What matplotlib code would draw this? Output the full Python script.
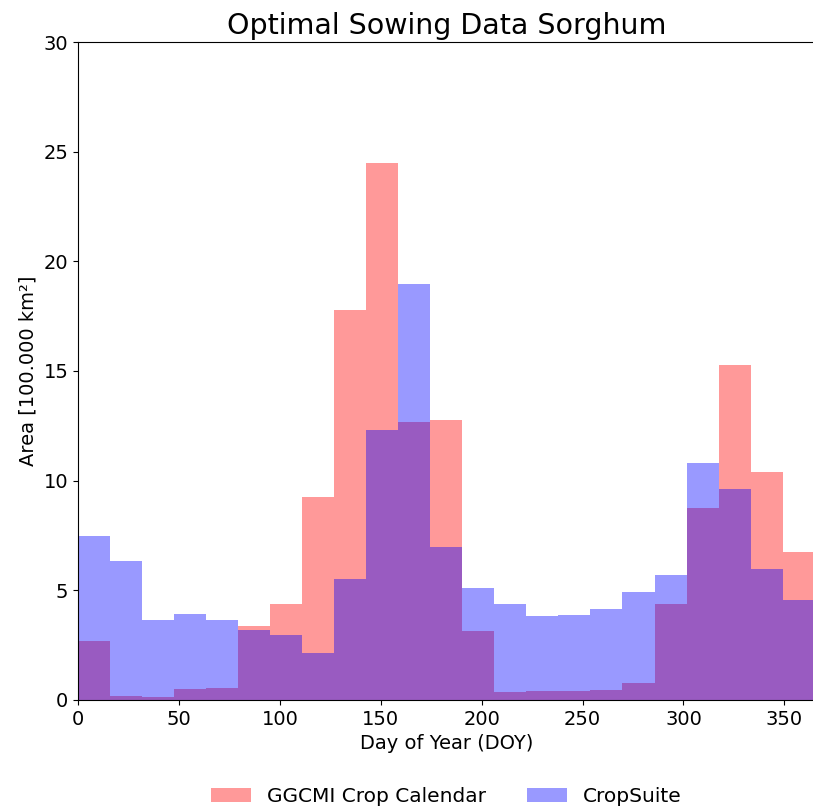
import numpy as np
import matplotlib
matplotlib.use('Agg')
import matplotlib.pyplot as plt

# 23 equal bins across the year
bin_edges = np.linspace(0, 365, 24)

ggcmi_area = [2.70, 0.18, 0.13, 0.49, 0.56, 3.35, 4.37, 9.25, 17.78, 24.5,
              12.65, 12.76, 3.15, 0.37, 0.40, 0.40, 0.43, 0.78, 4.39, 8.76,
              15.26, 10.40, 6.74]
cropsuite_area = [7.47, 6.31, 3.66, 3.92, 3.66, 3.20, 2.96, 2.13, 5.49, 12.3,
                  18.95, 6.95, 5.12, 4.35, 3.84, 3.89, 4.12, 4.90, 5.67, 10.80,
                  9.60, 5.98, 4.54]

labels = ['GGCMI Crop Calendar', 'CropSuite']

centers = 0.5 * (bin_edges[:-1] + bin_edges[1:])

fig = plt.figure(figsize=(8.13, 8.09), dpi=100)
ax = fig.add_axes([0.096, 0.135, 0.906, 0.813])

ax.hist(centers, bins=bin_edges, weights=ggcmi_area, color='red', alpha=0.4,
        label=labels[0])
ax.hist(centers, bins=bin_edges, weights=cropsuite_area, color='blue', alpha=0.4,
        label=labels[1])

ax.set_xlim(0, 365)
ax.set_ylim(0, 30)
ax.set_title('Optimal Sowing Data Sorghum', fontsize=20.5)
ax.set_xlabel('Day of Year (DOY)', fontsize=14)
ax.set_ylabel('Area [100.000 km²]', fontsize=14)
ax.tick_params(labelsize=14)

ax.legend(loc='upper center', bbox_to_anchor=(0.5, -0.105), ncol=2,
          frameon=False, fontsize=14.5, columnspacing=2.0)

fig.savefig('out.png', dpi=100)
